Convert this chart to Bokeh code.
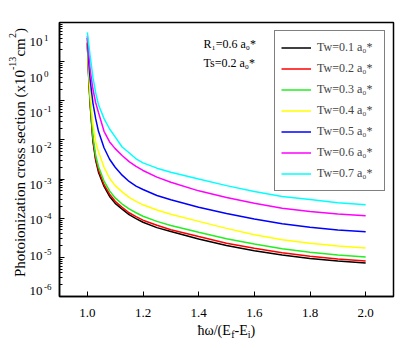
import math
from bokeh.plotting import figure
from bokeh.layouts import row, column
from bokeh.models import Range1d, FixedTicker, Label, Legend, LegendItem
from bokeh.embed import file_html
from bokeh.resources import INLINE

# photon energy, in units of (Ef - Ei)
energy = [1.0, 1.005, 1.01, 1.02, 1.03, 1.04, 1.06, 1.08, 1.1, 1.125, 1.15, 1.175, 1.2, 1.25,
          1.3, 1.4, 1.5, 1.6, 1.7, 1.8, 1.9, 2.0]

# cross sections (x1e-13 cm^2)
sigma_tw01 = [2.95, 0.38, 0.083, 9.5e-3, 3.0e-3, 1.5e-3, 6.5e-4, 3.6e-4, 2.4e-4, 1.7e-4, 1.23e-4, 9.8e-5,
              7.9e-5, 5.75e-5, 4.6e-5, 2.95e-5, 2.0e-5, 1.48e-5, 1.15e-5, 9.3e-6, 8.1e-6, 7.2e-6]
sigma_tw02 = [3.0, 0.40, 0.089, 0.0105, 3.3e-3, 1.7e-3, 7.2e-4, 4.1e-4, 2.7e-4, 1.9e-4, 1.38e-4, 1.1e-4,
              8.9e-5, 6.6e-5, 5.1e-5, 3.4e-5, 2.3e-5, 1.7e-5, 1.32e-5, 1.07e-5, 9.1e-6, 8.1e-6]
sigma_tw03 = [3.2, 0.45, 0.10, 0.0126, 4.0e-3, 2.1e-3, 8.9e-4, 5.0e-4, 3.3e-4, 2.3e-4, 1.74e-4, 1.38e-4,
              1.12e-4, 8.3e-5, 6.5e-5, 4.4e-5, 3.0e-5, 2.2e-5, 1.66e-5, 1.35e-5, 1.15e-5, 1.02e-5]
sigma_tw04 = [3.5, 0.63, 0.16, 0.025, 8.9e-3, 5.0e-3, 2.0e-3, 1.05e-3, 6.8e-4, 4.7e-4, 3.4e-4, 2.7e-4,
              2.2e-4, 1.62e-4, 1.26e-4, 8.3e-5, 5.5e-5, 3.8e-5, 2.8e-5, 2.3e-5, 1.95e-5, 1.74e-5]
sigma_tw05 = [4.0, 1.0, 0.35, 0.089, 0.035, 0.0166, 6.3e-3, 3.2e-3, 2.0e-3, 1.26e-3, 8.7e-4, 6.6e-4,
              5.4e-4, 3.8e-4, 2.95e-4, 1.9e-4, 1.32e-4, 9.5e-5, 7.2e-5, 5.9e-5, 5.0e-5, 4.5e-5]
sigma_tw06 = [4.5, 1.6, 0.63, 0.20, 0.089, 0.050, 0.0166, 8.9e-3, 6.0e-3, 4.0e-3, 2.8e-3, 2.1e-3,
              1.66e-3, 1.12e-3, 8.3e-4, 5.0e-4, 3.4e-4, 2.4e-4, 1.8e-4, 1.48e-4, 1.29e-4, 1.15e-4]
sigma_tw07 = [5.6, 2.8, 1.4, 0.40, 0.16, 0.079, 0.035, 0.019, 0.012, 6.6e-3, 4.7e-3, 3.3e-3,
              2.6e-3, 1.9e-3, 1.5e-3, 1.0e-3, 6.8e-4, 4.8e-4, 3.6e-4, 3.0e-4, 2.5e-4, 2.2e-4]

series = [sigma_tw01, sigma_tw02, sigma_tw03, sigma_tw04, sigma_tw05, sigma_tw06, sigma_tw07]
series_labels = ["Tw=0.1 a\u2080*", "Tw=0.2 a\u2080*", "Tw=0.3 a\u2080*", "Tw=0.4 a\u2080*",
                 "Tw=0.5 a\u2080*", "Tw=0.6 a\u2080*", "Tw=0.7 a\u2080*"]
series_colors = ["#000000", "#ff0000", "#22ee22", "#ffff00", "#0000ff", "#ff00ff", "#00ffff"]

x_ticks = [1.0, 1.2, 1.4, 1.6, 1.8, 2.0]
x_tick_labels = ["1.0", "1.2", "1.4", "1.6", "1.8", "2.0"]
y_tick_exponents = [1, 0, -1, -2, -3, -4, -5, -6]
note_lines = ["R\u2081=0.6 a\u2080*", "Ts=0.2 a\u2080*"]

FONT = "Liberation Serif"

# layout constants (pixels)
TOP, FRAME_H, BOTTOM = 22, 274, 6
LEFT_W = 57
FRAME_W, RIGHT = 334, 15
DEC_PX = FRAME_H / 7.0
MAIN_H = TOP + FRAME_H + BOTTOM
STRIP_H = 44

y_range = Range1d(1e-6, 10)
x_range = Range1d(0.9, 2.1)

p = figure(width=2 + FRAME_W + RIGHT, height=MAIN_H, x_range=x_range, y_range=y_range,
           y_axis_type="log", output_backend="svg", toolbar_location=None,
           min_border_left=2, min_border_right=RIGHT, min_border_top=TOP, min_border_bottom=BOTTOM)
p.background_fill_color = "white"
p.border_fill_color = "white"
p.xgrid.visible = False
p.ygrid.visible = False
p.outline_line_color = "black"
p.outline_line_width = 1.5

renderers = []
for ys, c in zip(series, series_colors):
    r = p.line(energy, ys, line_color=c, line_width=1.5)
    renderers.append(r)

p.xaxis.ticker = FixedTicker(ticks=x_ticks)
p.xaxis.major_label_overrides = {v: "" for v in x_ticks}
p.xaxis.major_label_standoff = 0
p.xaxis.major_tick_in = 5
p.xaxis.major_tick_out = 0
p.xaxis.minor_tick_line_color = None

y_major = [10.0 ** e for e in y_tick_exponents]
y_minor = [k * 10.0 ** e for e in range(-6, 1) for k in range(2, 10)]
p.yaxis.ticker = FixedTicker(ticks=y_major, minor_ticks=y_minor)
p.yaxis.major_label_overrides = {v: "" for v in y_major}
p.yaxis.major_label_standoff = 0
p.yaxis.major_tick_in = 5
p.yaxis.major_tick_out = 0
p.yaxis.minor_tick_in = 3
p.yaxis.minor_tick_out = 0
for ax in (p.xaxis, p.yaxis):
    ax.axis_line_width = 1.5
    ax.axis_line_color = "black"
    ax.major_tick_line_color = "black"

for i, t in enumerate(note_lines):
    p.add_layout(Label(x=0.9, y=10, text=t, x_offset=144, y_offset=-21 - 19 * i,
                       text_font=FONT, text_font_size="12px", text_baseline="middle",
                       text_align="left", text_color="black"))

legend = Legend(items=[LegendItem(label=l, renderers=[r]) for l, r in zip(series_labels, renderers)],
                location="top_right", margin=8, padding=6, spacing=0,
                glyph_width=30, glyph_height=21, label_height=21, label_width=61,
                label_standoff=6, label_text_font=FONT, label_text_font_size="12px",
                border_line_color="black", border_line_width=1.5,
                background_fill_alpha=1.0)
p.add_layout(legend)

# left strip: y tick labels and y axis title, on the same log scale
left = figure(width=LEFT_W, height=MAIN_H,
              x_range=Range1d(0, LEFT_W),
              y_range=Range1d(10 ** (-6 - BOTTOM / DEC_PX), 10 ** (1 + TOP / DEC_PX)),
              y_axis_type="log", output_backend="svg", toolbar_location=None,
              x_axis_location=None, y_axis_location=None, min_border=0)
left.outline_line_color = None
left.xgrid.visible = False
left.ygrid.visible = False
for e, v in zip(y_tick_exponents, y_major):
    left.add_layout(Label(x=29, y=v, text="10", text_font=FONT, text_font_size="13px",
                          text_baseline="middle", text_align="left", text_color="black"))
    left.add_layout(Label(x=43.5, y=v, text=str(e), y_offset=4, text_font=FONT,
                          text_font_size="9px", text_baseline="middle", text_align="left",
                          text_color="black"))

ylab_pieces = [("Photoionization cross section (x10", "15px", 19, 14),
               ("-13", "10px", 11.5, 221),
               ("cm", "15px", 19, 234.5),
               ("2", "10px", 11.5, 253),
               (")", "15px", 19, 258)]
for t, fs, xx, yo in ylab_pieces:
    left.add_layout(Label(x=xx, y=1e-6, text=t, y_offset=yo, angle=math.pi / 2,
                          text_font=FONT, text_font_size=fs, text_baseline="middle",
                          text_align="left", text_color="black"))

# bottom strip: x tick labels and x axis title on the same x scale
bottom = figure(width=LEFT_W + 2 + FRAME_W + RIGHT, height=STRIP_H, x_range=x_range,
                y_range=Range1d(0, STRIP_H), output_backend="svg", toolbar_location=None,
                x_axis_location=None, y_axis_location=None,
                min_border_left=LEFT_W + 2, min_border_right=RIGHT, min_border_top=0,
                min_border_bottom=0)
bottom.outline_line_color = None
bottom.xgrid.visible = False
bottom.ygrid.visible = False
for v, t in zip(x_ticks, x_tick_labels):
    bottom.add_layout(Label(x=v, y=STRIP_H - 10.5, text=t, text_font=FONT, text_font_size="13px",
                            text_baseline="middle", text_align="center", text_color="black"))

xlab_pieces = [("\u0127\u03c9/(E", "14px", -29, 0),
               ("f", "10px", 4.7, -4),
               ("-E", "14px", 8, 0),
               ("i", "10px", 21.2, -4),
               (")", "14px", 24, 0)]
for t, fs, xo, yo in xlab_pieces:
    bottom.add_layout(Label(x=1.5, y=STRIP_H - 28, text=t, x_offset=xo, y_offset=yo,
                            text_font=FONT, text_font_size=fs, text_baseline="middle",
                            text_align="left", text_color="black"))

layout = column(row(left, p, spacing=0), bottom, spacing=0)
open("out.html", "w").write(file_html(layout, INLINE))
